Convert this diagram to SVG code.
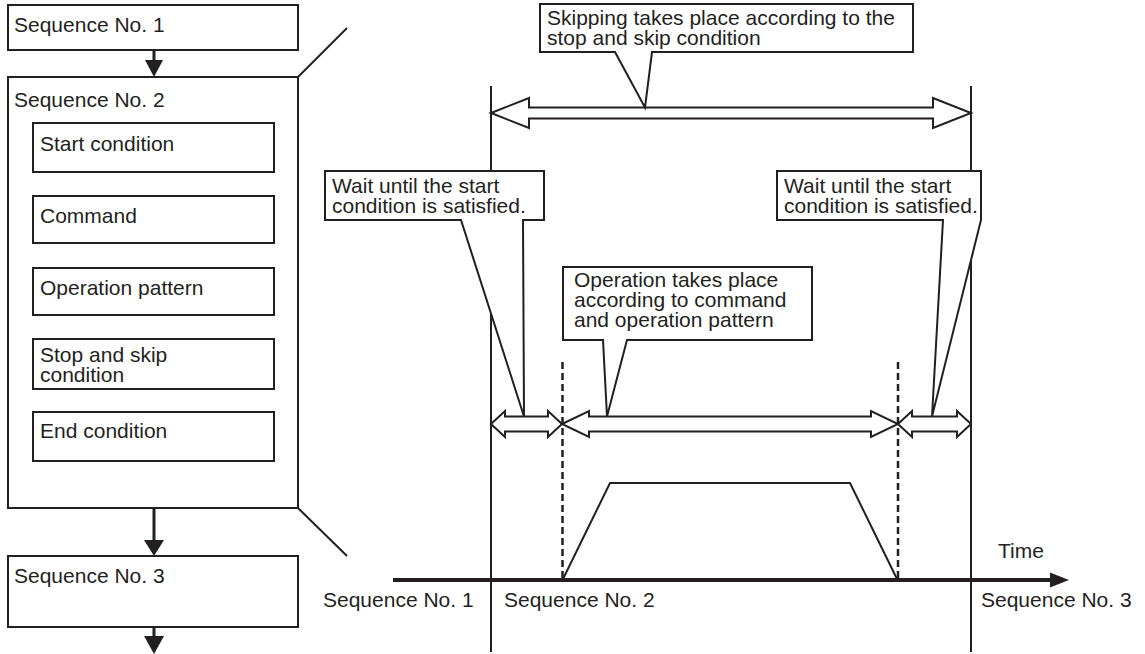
<svg xmlns="http://www.w3.org/2000/svg" width="1145" height="654" viewBox="0 0 1145 654">
<style>
.t{font-family:"Liberation Sans",Arial,sans-serif;font-size:21px;fill:#231f20}
.b{fill:#fff;stroke:#231f20;stroke-width:2}
.ln{fill:none;stroke:#231f20;stroke-width:2}
.ha{fill:#fff;stroke:#231f20;stroke-width:2;stroke-linejoin:miter}
.dash{fill:none;stroke:#231f20;stroke-width:2.5;stroke-dasharray:7 4}
.ah{fill:#231f20;stroke:none}
</style>
<rect width="1145" height="654" fill="#fff"/>

<g id="connectors">
  <line x1="154" y1="50" x2="154" y2="62" stroke="#231f20" stroke-width="3"/>
  <polygon class="ah" points="145,60 163,60 154,77"/>
  <line x1="154" y1="508" x2="154" y2="542" stroke="#231f20" stroke-width="3"/>
  <polygon class="ah" points="144,540 164,540 154,556"/>
  <line x1="154" y1="627" x2="154" y2="638" stroke="#231f20" stroke-width="3"/>
  <polygon class="ah" points="144,636 164,636 154,654"/>
  <line class="ln" x1="298" y1="77" x2="347" y2="28"/>
  <line class="ln" x1="298" y1="508" x2="347" y2="556"/>
</g>

<g id="seq1">
  <rect class="b" x="8" y="5" width="290" height="45"/>
  <text class="t" x="14" y="32">Sequence No. 1</text>
</g>

<g id="seq2">
  <rect class="b" x="8" y="77" width="290" height="431"/>
  <text class="t" x="14" y="107">Sequence No. 2</text>
  <g id="start-condition">
    <rect class="b" x="33" y="123" width="241" height="49"/>
    <text class="t" x="40" y="151">Start condition</text>
  </g>
  <g id="command">
    <rect class="b" x="33" y="196" width="241" height="47"/>
    <text class="t" x="40" y="223">Command</text>
  </g>
  <g id="operation-pattern">
    <rect class="b" x="33" y="268" width="241" height="47"/>
    <text class="t" x="40" y="295">Operation pattern</text>
  </g>
  <g id="stop-skip">
    <rect class="b" x="33" y="339" width="241" height="50"/>
    <text class="t" x="40" y="362">Stop and skip<tspan x="40" dy="20">condition</tspan></text>
  </g>
  <g id="end-condition">
    <rect class="b" x="33" y="412" width="241" height="49"/>
    <text class="t" x="40" y="438">End condition</text>
  </g>
</g>

<g id="seq3">
  <rect class="b" x="8" y="556" width="290" height="71"/>
  <text class="t" x="14" y="583">Sequence No. 3</text>
</g>

<g id="timeline">
  <line class="ln" x1="491" y1="86" x2="491" y2="652"/>
  <line class="ln" x1="971" y1="86" x2="971" y2="652"/>
  <line class="dash" x1="562.5" y1="362" x2="562.5" y2="580"/>
  <line class="dash" x1="898" y1="362" x2="898" y2="580"/>
  <polyline class="ln" points="563,579 610,483 850,483 897,579"/>
  <line x1="393" y1="580" x2="1052" y2="580" stroke="#231f20" stroke-width="4"/>
  <polygon class="ah" points="1050,572.5 1069,580 1050,587.5"/>
  <text class="t" x="998" y="558">Time</text>
  <text class="t" x="323" y="607">Sequence No. 1</text>
  <text class="t" x="504" y="607">Sequence No. 2</text>
  <text class="t" x="981" y="607">Sequence No. 3</text>
</g>

<g id="arrows">
  <polygon class="ha" points="491,113 529,98 529,107.5 933,107.5 933,98 971,113 933,128 933,118.5 529,118.5 529,128"/>
  <polygon class="ha" points="491,424 505,411 505,416.5 548,416.5 548,411 562,424 548,437 548,431.5 505,431.5 505,437"/>
  <polygon class="ha" points="562,424 589,411 589,416.5 871,416.5 871,411 898,424 871,437 871,431.5 589,431.5 589,437"/>
  <polygon class="ha" points="898,424 912,411 912,416.5 957,416.5 957,411 971,424 957,437 957,431.5 912,431.5 912,437"/>
</g>

<g id="callout-skip">
  <path class="b" d="M540,4 H913 V52 H652 L645,107.5 L615,52 H540 Z"/>
  <text class="t" x="547" y="25">Skipping takes place according to the<tspan x="547" dy="20">stop and skip condition</tspan></text>
</g>

<g id="callout-wait1">
  <path class="b" d="M325,171 H544 V220 H523 L524,416.5 L461,220 H325 Z"/>
  <text class="t" x="332" y="193">Wait until the start<tspan x="332" dy="20">condition is satisfied.</tspan></text>
</g>

<g id="callout-operation">
  <path class="b" d="M563,267 H812 V340 H627 L607,416.5 L603,340 H563 Z"/>
  <text class="t" x="574" y="287">Operation takes place<tspan x="574" dy="20">according to command</tspan><tspan x="574" dy="20">and operation pattern</tspan></text>
</g>

<g id="callout-wait2">
  <path class="b" d="M777,171 H981 V220 L932,416.5 L943,220 H777 Z"/>
  <text class="t" x="784" y="193">Wait until the start<tspan x="784" dy="20">condition is satisfied.</tspan></text>
</g>
</svg>
